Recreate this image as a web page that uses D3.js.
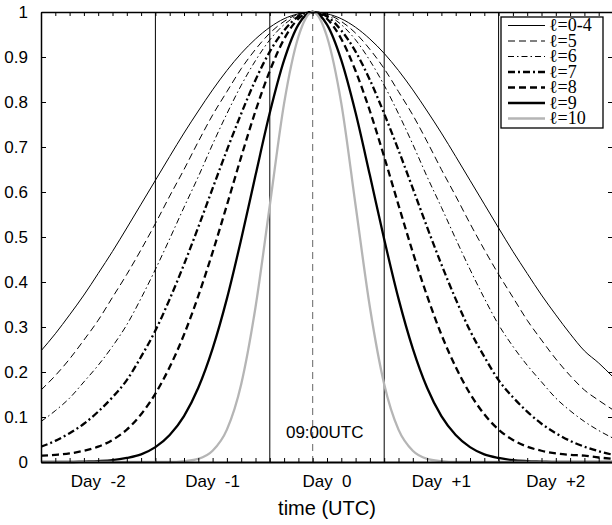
<!DOCTYPE html>
<html>
<head>
  <meta charset="utf-8">
  <style>
    body { margin: 0; background: #fff; }
    svg { display: block; font-family: 'Liberation Sans', Arial, sans-serif; }
    .frame path.domain { stroke: #000; stroke-width: 1.5px; }
    .frame line { stroke: #000; stroke-width: 1px; }
    .ylab text { font-size: 17px; fill: #000; }
    .day { font-size: 17px; white-space: pre; text-anchor: middle; }
    .leg text { font-family: 'Liberation Serif', 'DejaVu Serif', serif; font-size: 18px; }
  </style>
</head>
<body>
  <script src="https://d3js.org/d3.v7.min.js"></script>
  <script>
  // hours since Day 0 00:00 UTC, every 3 h
  var hours = [-48,-45,-42,-39,-36,-33,-30,-27,-24,-21,-18,-15,-12,-9,-6,-3,0,3,6,9,12,
    15,18,21,24,27,30,33,36,39,42,45,48,51,54,57,60,63,66,69,72]

  var l04 = [.247,.285,.327,.371,.419,.468,.520,.573,.626,.679,.731,.780,.827,.870,.908,.940,.966,.985,.996,1,
    .996,.985,.966,.940,.908,.870,.827,.780,.731,.679,.626,.573,.520,.468,.419,.371,.327,.285,.247,.220,.189]
  var l5 = [.160,.192,.229,.271,.315,.366,.417,.472,.530,.591,.650,.712,.771,.823,.874,.917,.953,.979,.995,1,
    .995,.979,.953,.917,.874,.823,.771,.712,.650,.591,.530,.472,.417,.366,.315,.271,.229,.192,.160,.137,.116]
  var l6 = [.090,.114,.142,.178,.215,.257,.305,.364,.428,.496,.566,.634,.706,.774,.837,.892,.938,.972,.993,1,
    .993,.972,.938,.892,.837,.774,.706,.634,.566,.496,.428,.364,.305,.257,.215,.178,.142,.114,.090,.070,.053]
  var l7 = [.034,.047,.064,.085,.112,.144,.182,.234,.292,.362,.439,.522,.608,.693,.774,.849,.912,.959,.990,1,
    .990,.959,.912,.849,.774,.693,.608,.522,.439,.362,.292,.234,.182,.144,.112,.085,.064,.047,.034,.024,.016]
  var l8 = [.014,.016,.019,.025,.034,.049,.072,.106,.152,.211,.283,.369,.466,.571,.678,.780,.869,.940,.985,1,
    .985,.940,.869,.780,.678,.571,.466,.369,.283,.211,.152,.106,.072,.049,.034,.025,.019,.016,.014,.010,.007]
  var l9 = [0,0,0,.001,.002,.004,.009,.017,.033,.060,.102,.165,.252,.363,.495,.637,.776,.893,.972,1,
    .972,.893,.776,.637,.495,.363,.252,.165,.102,.060,.033,.017,.009,.004,.002,.001,0,0,0,0,0]
  var l10 = [0,0,0,0,0,0,0,0,0,0,.002,.007,.025,.072,.173,.344,.570,.797,.945,1,
    .945,.797,.570,.344,.173,.072,.025,.007,.002,0,0,0,0,0,0,0,0,0,0,0,0]

  var seriesNames = ["ℓ=0-4", "ℓ=5", "ℓ=6", "ℓ=7", "ℓ=8", "ℓ=9", "ℓ=10"]
  var dayStarts = [-48, -24, 0, 24, 48]
  var dayLabels = ["Day  -2", "Day  -1", "Day  0", "Day  +1", "Day  +2"]
  var yTicks = [0, .1, .2, .3, .4, .5, .6, .7, .8, .9, 1]
  var yTickLabels = ["0", "0.1", "0.2", "0.3", "0.4", "0.5", "0.6", "0.7", "0.8", "0.9", "1"]
  var peakHour = 9

  var styles = [
    {w: 1, dash: null, color: "#000"},
    {w: 1, dash: "7,4", color: "#000"},
    {w: 1, dash: "6,3,1.5,3", color: "#000"},
    {w: 2.3, dash: "7,3,2,3", color: "#000"},
    {w: 2.3, dash: "7,4", color: "#000"},
    {w: 2.3, dash: null, color: "#000"},
    {w: 2.3, dash: null, color: "#b5b5b5"}
  ]
  var series = [l04, l5, l6, l7, l8, l9, l10]

  var width = 612, height = 525
  var padL = 41, padR = 613, padT = 12, padB = 462

  var x = d3.scaleLinear().domain([-48, 72]).range([padL, padR])
  var y = d3.scaleLinear().domain([0, 1]).range([padB, padT])

  var svg = d3.select("body").append("svg")
    .attr("width", width)
    .attr("height", height)

  svg.append("defs").append("clipPath").attr("id", "plot")
    .append("rect").attr("x", padL).attr("y", padT - 2)
    .attr("width", padR - padL).attr("height", padB - padT + 4)

  // day separators
  svg.selectAll(".daysep").data(dayStarts.slice(1)).enter().append("line")
    .attr("x1", d => x(d)).attr("x2", d => x(d))
    .attr("y1", padT).attr("y2", padB)
    .attr("stroke", "#000").attr("stroke-width", 1)

  // 09:00 marker
  svg.append("line")
    .attr("x1", x(peakHour)).attr("x2", x(peakHour))
    .attr("y1", padT).attr("y2", padB)
    .attr("stroke", "#666").attr("stroke-width", 1)
    .attr("stroke-dasharray", "7,5")

  svg.append("text")
    .attr("x", x(peakHour) + 12).attr("y", 438)
    .attr("text-anchor", "middle")
    .style("font-size", "17px")
    .text("09:00UTC")

  // curves
  var line = d3.line()
    .x((d, i) => x(hours[i]))
    .y(d => y(d))
    .curve(d3.curveMonotoneX)

  var g = svg.append("g").attr("clip-path", "url(#plot)")
  series.forEach(function(s, k) {
    g.append("path")
      .attr("d", line(s))
      .attr("fill", "none")
      .attr("stroke", styles[k].color)
      .attr("stroke-width", styles[k].w)
      .attr("stroke-dasharray", styles[k].dash)
  })

  // frame with inward ticks
  var xt = d3.range(-48, 73, 3)
  svg.append("g").attr("class", "frame")
    .attr("transform", "translate(0," + padB + ")")
    .call(d3.axisBottom(x).tickValues(xt).tickSize(-4).tickSizeOuter(0).tickFormat(""))
    .select(".domain").style("stroke-width", "2px")
  svg.append("g").attr("class", "frame")
    .attr("transform", "translate(0," + padT + ")")
    .call(d3.axisTop(x).tickValues(xt).tickSize(-4).tickSizeOuter(0).tickFormat(""))
  svg.append("g").attr("class", "frame ylab")
    .attr("transform", "translate(" + padL + ",0)")
    .call(d3.axisLeft(y).tickValues(yTicks).tickSize(-5).tickSizeOuter(0)
      .tickPadding(13).tickFormat((d, i) => yTickLabels[i]))
  svg.append("g").attr("class", "frame")
    .attr("transform", "translate(" + padR + ",0)")
    .call(d3.axisRight(y).tickValues(yTicks).tickSize(-5).tickSizeOuter(0).tickFormat(""))
  svg.selectAll(".ylab").attr("font-family", null).attr("font-size", null)

  // day labels
  svg.selectAll(".day").data(dayLabels).enter().append("text")
    .attr("class", "day")
    .attr("x", (d, i) => x(dayStarts[i] + 12))
    .attr("y", 487)
    .text(d => d)

  svg.append("text")
    .attr("x", (padL + padR) / 2).attr("y", 515)
    .attr("text-anchor", "middle")
    .style("font-size", "20px")
    .text("time (UTC)")

  // legend
  var leg = svg.append("g").attr("class", "leg")
  leg.append("rect")
    .attr("x", 501).attr("y", 17).attr("width", 102).attr("height", 111)
    .attr("fill", "#fff").attr("stroke", "#000").attr("stroke-width", 1.3)
  seriesNames.forEach(function(name, k) {
    var ly = 25.5 + k * 15.5
    leg.append("line")
      .attr("x1", 508).attr("x2", 545).attr("y1", ly).attr("y2", ly)
      .attr("stroke", styles[k].color)
      .attr("stroke-width", styles[k].w)
      .attr("stroke-dasharray", styles[k].dash)
    leg.append("text")
      .attr("x", 549).attr("y", ly + 5.5)
      .text(name)
  })
  </script>
</body>
</html>
